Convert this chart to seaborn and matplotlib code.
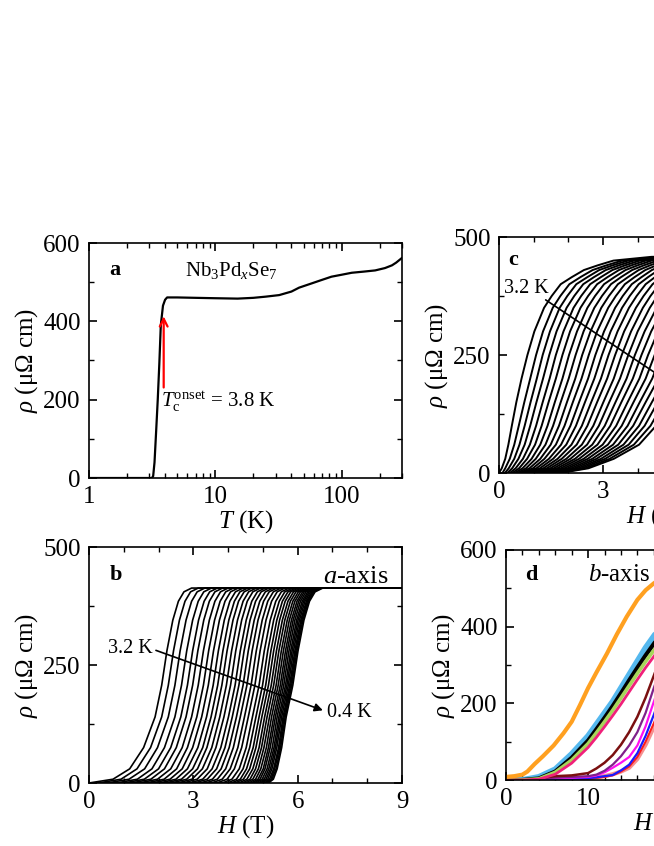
import numpy as np
import pandas as pd
import matplotlib
matplotlib.use('Agg')
import matplotlib.pyplot as plt
from matplotlib.ticker import MultipleLocator, FixedLocator, LogLocator, NullFormatter, FixedFormatter
import seaborn as sns

# ---------------- data ----------------
# panel a: rho(T)
a_T = [1.0, 2.0, 3.0, 3.15, 3.22, 3.3, 3.4, 3.5, 3.6, 3.7, 3.85, 4.0, 4.15, 5.0, 7.0, 10.0, 15.0, 20.0,
       25.0, 32.0, 40.0, 46.0, 58.0, 70.0, 83.0, 100.0, 120.0, 150.0, 184.0, 220.0, 250.0, 270.0, 300.0]
a_rho = [0, 0, 0, 0, 5, 40, 120, 200, 290, 390, 440, 455, 461, 461, 460, 459, 458, 460,
         463, 467, 476, 486, 497, 506, 514, 519, 524, 527, 530, 536, 543, 550, 562]

# panel b: field at which each a-axis curve (3.2 K ... 0.4 K) crosses the rho levels
b_rho_levels = [0, 8, 30, 75, 140, 207, 280, 345, 385, 405, 413]
b_H_curves = [
    [0.00, 0.69, 1.17, 1.57, 1.90, 2.09, 2.24, 2.41, 2.57, 2.73, 2.95],
    [0.26, 0.92, 1.38, 1.77, 2.09, 2.28, 2.43, 2.60, 2.76, 2.92, 3.14],
    [0.52, 1.15, 1.60, 1.97, 2.28, 2.47, 2.62, 2.79, 2.95, 3.11, 3.33],
    [0.78, 1.39, 1.81, 2.17, 2.47, 2.66, 2.81, 2.98, 3.14, 3.30, 3.52],
    [1.01, 1.59, 2.00, 2.35, 2.64, 2.83, 2.98, 3.15, 3.31, 3.47, 3.69],
    [1.22, 1.78, 2.17, 2.51, 2.79, 2.98, 3.13, 3.30, 3.46, 3.62, 3.84],
    [1.44, 1.97, 2.35, 2.68, 2.95, 3.14, 3.29, 3.46, 3.62, 3.78, 4.00],
    [1.64, 2.16, 2.52, 2.83, 3.10, 3.29, 3.44, 3.61, 3.77, 3.93, 4.15],
    [1.83, 2.33, 2.68, 2.98, 3.24, 3.43, 3.58, 3.75, 3.91, 4.07, 4.29],
    [2.03, 2.50, 2.83, 3.13, 3.38, 3.57, 3.72, 3.89, 4.05, 4.21, 4.43],
    [2.20, 2.66, 2.98, 3.27, 3.51, 3.70, 3.85, 4.02, 4.18, 4.34, 4.56],
    [2.37, 2.81, 3.12, 3.39, 3.63, 3.82, 3.97, 4.14, 4.30, 4.46, 4.68],
    [2.55, 2.96, 3.26, 3.53, 3.76, 3.95, 4.10, 4.27, 4.43, 4.59, 4.81],
    [2.71, 3.11, 3.40, 3.65, 3.88, 4.07, 4.22, 4.39, 4.55, 4.71, 4.93],
    [2.89, 3.27, 3.54, 3.79, 4.01, 4.20, 4.35, 4.52, 4.68, 4.84, 5.06],
    [3.04, 3.40, 3.67, 3.91, 4.12, 4.31, 4.46, 4.63, 4.79, 4.95, 5.17],
    [3.20, 3.55, 3.80, 4.03, 4.24, 4.43, 4.58, 4.75, 4.91, 5.07, 5.29],
    [3.35, 3.69, 3.93, 4.15, 4.35, 4.54, 4.69, 4.86, 5.02, 5.18, 5.40],
    [3.52, 3.83, 4.06, 4.28, 4.47, 4.66, 4.81, 4.98, 5.14, 5.30, 5.52],
    [3.67, 3.97, 4.18, 4.39, 4.58, 4.77, 4.92, 5.09, 5.25, 5.41, 5.63],
    [3.83, 4.11, 4.32, 4.52, 4.70, 4.89, 5.04, 5.21, 5.37, 5.53, 5.75],
    [3.97, 4.24, 4.43, 4.62, 4.80, 4.99, 5.14, 5.31, 5.47, 5.63, 5.85],
    [4.09, 4.35, 4.53, 4.72, 4.89, 5.08, 5.23, 5.40, 5.56, 5.72, 5.94],
    [4.20, 4.44, 4.62, 4.80, 4.97, 5.16, 5.31, 5.48, 5.64, 5.80, 6.02],
    [4.31, 4.54, 4.71, 4.89, 5.05, 5.24, 5.39, 5.56, 5.72, 5.88, 6.10],
    [4.41, 4.63, 4.79, 4.96, 5.12, 5.31, 5.46, 5.63, 5.79, 5.95, 6.17],
    [4.50, 4.71, 4.87, 5.03, 5.19, 5.38, 5.53, 5.70, 5.86, 6.02, 6.24],
    [4.59, 4.79, 4.94, 5.10, 5.25, 5.44, 5.59, 5.76, 5.92, 6.08, 6.30],
    [4.67, 4.86, 5.01, 5.16, 5.31, 5.50, 5.65, 5.82, 5.98, 6.14, 6.36],
    [4.74, 4.92, 5.06, 5.21, 5.36, 5.55, 5.70, 5.87, 6.03, 6.19, 6.41],
    [4.80, 4.98, 5.12, 5.27, 5.41, 5.60, 5.75, 5.92, 6.08, 6.24, 6.46],
    [4.87, 5.04, 5.17, 5.32, 5.46, 5.65, 5.80, 5.97, 6.13, 6.29, 6.51],
    [4.93, 5.09, 5.22, 5.36, 5.50, 5.69, 5.84, 6.01, 6.17, 6.33, 6.55],
    [4.98, 5.14, 5.26, 5.40, 5.54, 5.73, 5.88, 6.05, 6.21, 6.37, 6.59],
    [5.04, 5.19, 5.31, 5.45, 5.58, 5.77, 5.92, 6.09, 6.25, 6.41, 6.63],
    [5.08, 5.23, 5.34, 5.48, 5.61, 5.80, 5.95, 6.12, 6.28, 6.44, 6.66],
    [5.12, 5.26, 5.38, 5.51, 5.64, 5.83, 5.98, 6.15, 6.31, 6.47, 6.69],
    [5.16, 5.30, 5.41, 5.54, 5.67, 5.86, 6.01, 6.18, 6.34, 6.50, 6.72],
]
b_plateau = 413

# panel c: field at which each curve crosses the rho levels
c_rho_levels = [0, 10, 30, 60, 100, 150, 200, 250, 300, 350, 375, 400, 415, 430, 440, 450, 458]
c_H_curves = [
    [0.00, 0.08, 0.18, 0.27, 0.37, 0.50, 0.65, 0.82, 1.02, 1.30, 1.52, 1.78, 2.10, 2.45, 2.85, 3.30, 4.40],
    [0.10, 0.18, 0.31, 0.44, 0.57, 0.73, 0.90, 1.07, 1.27, 1.55, 1.77, 2.03, 2.35, 2.70, 3.10, 3.55, 4.65],
    [0.17, 0.28, 0.44, 0.59, 0.74, 0.91, 1.09, 1.26, 1.47, 1.75, 1.97, 2.23, 2.55, 2.89, 3.28, 3.72, 4.80],
    [0.24, 0.38, 0.56, 0.74, 0.90, 1.08, 1.27, 1.45, 1.66, 1.95, 2.17, 2.43, 2.74, 3.08, 3.46, 3.89, 4.95],
    [0.31, 0.48, 0.69, 0.89, 1.07, 1.26, 1.46, 1.64, 1.86, 2.15, 2.37, 2.63, 2.94, 3.27, 3.64, 4.06, 5.10],
    [0.38, 0.58, 0.81, 1.04, 1.23, 1.43, 1.64, 1.83, 2.05, 2.35, 2.57, 2.83, 3.13, 3.46, 3.82, 4.23, 5.25],
    [0.45, 0.68, 0.94, 1.19, 1.40, 1.61, 1.83, 2.02, 2.25, 2.55, 2.77, 3.03, 3.33, 3.65, 4.00, 4.40, 5.40],
    [0.52, 0.78, 1.06, 1.34, 1.56, 1.78, 2.01, 2.21, 2.44, 2.75, 2.97, 3.23, 3.52, 3.84, 4.18, 4.57, 5.55],
    [0.59, 0.88, 1.19, 1.49, 1.73, 1.96, 2.20, 2.40, 2.64, 2.95, 3.17, 3.43, 3.72, 4.03, 4.36, 4.74, 5.70],
    [0.66, 0.98, 1.31, 1.64, 1.89, 2.13, 2.38, 2.59, 2.83, 3.15, 3.37, 3.63, 3.91, 4.22, 4.54, 4.91, 5.85],
    [0.73, 1.08, 1.44, 1.79, 2.06, 2.31, 2.57, 2.78, 3.03, 3.35, 3.57, 3.83, 4.11, 4.41, 4.72, 5.08, 6.00],
    [0.80, 1.18, 1.56, 1.94, 2.22, 2.48, 2.75, 2.97, 3.22, 3.55, 3.77, 4.03, 4.30, 4.60, 4.90, 5.25, 6.15],
    [0.87, 1.28, 1.69, 2.09, 2.39, 2.66, 2.94, 3.16, 3.42, 3.75, 3.97, 4.23, 4.50, 4.79, 5.08, 5.42, 6.30],
    [0.94, 1.38, 1.81, 2.24, 2.55, 2.83, 3.12, 3.35, 3.61, 3.95, 4.17, 4.43, 4.69, 4.98, 5.26, 5.59, 6.45],
    [1.01, 1.48, 1.94, 2.39, 2.72, 3.01, 3.31, 3.54, 3.81, 4.15, 4.37, 4.63, 4.89, 5.17, 5.44, 5.76, 6.60],
    [1.08, 1.58, 2.06, 2.54, 2.88, 3.18, 3.49, 3.73, 4.00, 4.35, 4.57, 4.83, 5.08, 5.36, 5.62, 5.93, 6.75],
    [1.15, 1.68, 2.19, 2.69, 3.05, 3.36, 3.68, 3.92, 4.20, 4.55, 4.77, 5.03, 5.28, 5.55, 5.80, 6.10, 6.90],
    [1.22, 1.78, 2.31, 2.84, 3.21, 3.53, 3.86, 4.11, 4.39, 4.75, 4.97, 5.23, 5.47, 5.74, 5.98, 6.27, 7.05],
    [1.29, 1.88, 2.44, 2.99, 3.38, 3.71, 4.05, 4.30, 4.59, 4.95, 5.17, 5.43, 5.67, 5.93, 6.16, 6.44, 7.20],
    [1.36, 1.98, 2.56, 3.14, 3.54, 3.88, 4.23, 4.49, 4.78, 5.15, 5.37, 5.63, 5.86, 6.12, 6.34, 6.61, 7.35],
    [1.43, 2.08, 2.69, 3.29, 3.71, 4.06, 4.42, 4.68, 4.98, 5.35, 5.57, 5.83, 6.06, 6.31, 6.52, 6.78, 7.50],
    [1.50, 2.18, 2.81, 3.44, 3.87, 4.23, 4.60, 4.87, 5.17, 5.55, 5.77, 6.03, 6.25, 6.50, 6.70, 6.95, 7.65],
    [1.57, 2.28, 2.94, 3.59, 4.04, 4.41, 4.79, 5.06, 5.37, 5.75, 5.97, 6.23, 6.45, 6.69, 6.88, 7.12, 7.80],
    [1.64, 2.38, 3.06, 3.74, 4.20, 4.58, 4.97, 5.25, 5.56, 5.95, 6.17, 6.43, 6.64, 6.88, 7.06, 7.29, 7.95],
    [1.71, 2.48, 3.19, 3.89, 4.37, 4.76, 5.16, 5.44, 5.76, 6.15, 6.37, 6.63, 6.84, 7.07, 7.24, 7.46, 8.10],
    [1.78, 2.58, 3.31, 4.04, 4.53, 4.93, 5.34, 5.63, 5.95, 6.35, 6.57, 6.83, 7.03, 7.26, 7.42, 7.63, 8.25],
]
c_plateau = 462

# panel d: b-axis curves
d_H = [0, 2, 4, 6, 8, 10, 11, 12, 13, 14, 15, 16, 17, 18, 19, 20]
d_curves = {
    'salmon':  [0, 0, 1, 2, 3, 5, 8, 10, 15, 22, 32, 55, 92, 138, 195, 255],
    'red':     [0, 0, 1, 1, 2, 3, 5, 8, 12, 22, 35, 60, 100, 148, 205, 265],
    'blue':    [0, 0, 1, 2, 3, 5, 7, 10, 13, 25, 40, 70, 115, 170, 230, 290],
    'magenta': [0, 2, 4, 5, 6, 8, 12, 20, 32, 45, 60, 90, 140, 204, 265, 325],
    'purple':  [0, 2, 4, 6, 8, 10, 14, 24, 40, 62, 90, 125, 175, 240, 300, 360],
    'brown':   [0, 2, 5, 10, 12, 18, 30, 45, 65, 92, 125, 165, 215, 272, 330, 385],
    'pink':    [0, 0, 2, 15, 44, 85, 111, 139, 168, 198, 230, 262, 293, 322, 352, 380],
    'green':   [0, 0, 3, 20, 52, 95, 123, 152, 182, 214, 246, 278, 309, 338, 368, 395],
    'black':   [0, 0, 4, 22, 58, 103, 132, 162, 193, 226, 260, 293, 325, 355, 385, 412],
    'skyblue': [0, 0, 8, 28, 68, 115, 145, 175, 205, 240, 275, 310, 345, 375, 405, 430],
}
d_orange_H = [0, 1, 2, 2.6, 3.5, 4.5, 5.8, 7, 8, 9, 10, 11, 12.3, 13.5, 14.7, 16, 17, 18, 19, 20]
d_orange_rho = [8, 10, 14, 22, 42, 62, 90, 122, 152, 195, 240, 280, 330, 380, 426, 470, 495, 513, 527, 538]

# ---------------- styling ----------------
sns.set_style('ticks')
plt.rcParams.update({
    'font.family': ['Liberation Serif', 'DejaVu Serif'],
    'mathtext.fontset': 'custom',
    'mathtext.rm': 'Liberation Serif',
    'mathtext.it': 'Liberation Serif:italic',
    'mathtext.bf': 'Liberation Serif:bold',
    'axes.linewidth': 1.2,
    'axes.edgecolor': 'black',
    'axes.labelcolor': 'black',
    'text.color': 'black',
    'xtick.color': 'black', 'ytick.color': 'black',
    'xtick.direction': 'in', 'ytick.direction': 'in',
    'xtick.top': True, 'ytick.right': True,
    'xtick.major.size': 6, 'ytick.major.size': 6,
    'xtick.minor.size': 3.5, 'ytick.minor.size': 3.5,
    'xtick.major.width': 1.2, 'ytick.major.width': 1.2,
    'xtick.minor.width': 1.0, 'ytick.minor.width': 1.0,
    'xtick.labelsize': 18, 'ytick.labelsize': 18,
    'axes.labelsize': 18,
    'xtick.major.pad': 6, 'ytick.major.pad': 6,
})

W, H = 654, 846
fig = plt.figure(figsize=(W / 100, H / 100), dpi=100)

def pos(l, r, t, b):
    return [l / W, 1 - b / H, (r - l) / W, (b - t) / H]

axA = fig.add_axes(pos(89, 402, 243, 478))
axB = fig.add_axes(pos(89, 402, 547, 783))
axC = fig.add_axes(pos(499, 811, 237, 473))
axD = fig.add_axes(pos(506, 818, 550, 780))

ylab = r'$\rho$ (μΩ cm)'

# ---- panel a ----
dfa = pd.DataFrame({'T': a_T, 'rho': a_rho})
sns.lineplot(data=dfa, x='T', y='rho', ax=axA, color='black', lw=1.6, sort=False)
axA.set_xscale('log')
axA.set_xlim(1, 300)
axA.set_ylim(0, 600)
axA.xaxis.set_major_locator(FixedLocator([1, 10, 100]))
axA.xaxis.set_major_formatter(FixedFormatter(['1', '10', '100']))
axA.xaxis.set_minor_locator(LogLocator(base=10, subs=np.arange(2, 10)))
axA.xaxis.set_minor_formatter(NullFormatter())
axA.yaxis.set_major_locator(MultipleLocator(200))
axA.yaxis.set_minor_locator(MultipleLocator(100))
axA.set_xlabel(r'$T$ (K)', labelpad=0)
axA.set_ylabel(ylab, labelpad=2)
axA.text(1.45, 531, 'a', fontsize=16, fontweight='bold', va='center', ha='left')
axA.text(5.7, 531, r'Nb$_3$Pd$_x$Se$_7$', fontsize=15, va='center', ha='left')
axA.annotate('', xy=(3.9, 420), xytext=(3.9, 224),
             arrowprops=dict(arrowstyle='->', color='red', lw=1.6, mutation_scale=14))
axA.text(3.72, 195, r'$T_\mathrm{c}^\mathrm{onset}$ = 3.8 K', fontsize=15, va='center', ha='left')

# ---- panel b ----
rows = []
for i, hs in enumerate(b_H_curves):
    hh = [0.0] + hs + [9.0]
    rr = [0] + b_rho_levels + [b_plateau]
    for h, r in zip(hh, rr):
        rows.append((i, h, r))
dfb = pd.DataFrame(rows, columns=['curve', 'H', 'rho'])
sns.lineplot(data=dfb, x='H', y='rho', units='curve', estimator=None, ax=axB,
             color='black', lw=1.2, sort=False)
axB.set_xlim(0, 9)
axB.set_ylim(0, 500)
axB.xaxis.set_major_locator(MultipleLocator(3))
axB.xaxis.set_minor_locator(MultipleLocator(1))
axB.yaxis.set_major_locator(MultipleLocator(250))
axB.yaxis.set_minor_locator(MultipleLocator(125))
axB.set_xlabel(r'$H$ (T)', labelpad=0)
axB.set_ylabel(ylab, labelpad=2)
axB.text(0.6, 440, 'b', fontsize=16, fontweight='bold', va='center', ha='left')
axB.text(8.6, 437, r'$a$-axis', fontsize=19, va='center', ha='right')
axB.text(1.82, 285, '3.2 K', fontsize=14.5, va='center', ha='right')
axB.annotate('', xy=(6.8, 152), xytext=(1.85, 283),
             arrowprops=dict(arrowstyle='-|>', color='black', lw=1.2, mutation_scale=12),
             zorder=10)
axB.text(6.85, 150, '0.4 K', fontsize=14.5, va='center', ha='left')

# ---- panel c ----
rows = []
for i, hs in enumerate(c_H_curves):
    hh = [0.0] + hs + [9.0]
    rr = [0] + c_rho_levels + [c_plateau]
    for h, r in zip(hh, rr):
        rows.append((i, h, r))
dfc = pd.DataFrame(rows, columns=['curve', 'H', 'rho'])
sns.lineplot(data=dfc, x='H', y='rho', units='curve', estimator=None, ax=axC,
             color='black', lw=1.4, sort=False)
axC.set_xlim(0, 9)
axC.set_ylim(0, 500)
axC.xaxis.set_major_locator(MultipleLocator(3))
axC.xaxis.set_minor_locator(MultipleLocator(1))
axC.yaxis.set_major_locator(MultipleLocator(250))
axC.yaxis.set_minor_locator(MultipleLocator(125))
axC.set_xlabel(r'$H$ (T)', labelpad=0)
axC.set_ylabel(ylab, labelpad=2)
axC.text(0.26, 452, 'c', fontsize=16, fontweight='bold', va='center', ha='left')
axC.text(0.15, 390, '3.2 K', fontsize=14.5, va='center', ha='left')
axC.annotate('', xy=(6.8, 100), xytext=(1.28, 370),
             arrowprops=dict(arrowstyle='-|>', color='black', lw=1.2, mutation_scale=12),
             zorder=10)

# ---- panel d ----
d_colors = {
    'salmon': '#F47C7C', 'red': '#FF1A1A', 'blue': '#1A1AFF', 'magenta': '#FF10F0',
    'purple': '#80208A', 'brown': '#7A1010', 'pink': '#F0207A', 'green': '#A6D65A',
    'black': '#000000', 'skyblue': '#55B8EE',
}
d_widths = {
    'salmon': 3.0, 'red': 1.4, 'blue': 1.6, 'magenta': 1.6, 'purple': 1.6, 'brown': 1.8,
    'pink': 2.0, 'green': 2.6, 'black': 3.0, 'skyblue': 4.2,
}
draw_order = ['salmon', 'red', 'blue', 'magenta', 'purple', 'brown', 'skyblue', 'black', 'green', 'pink']
for name in draw_order:
    dfd = pd.DataFrame({'H': d_H, 'rho': d_curves[name]})
    sns.lineplot(data=dfd, x='H', y='rho', ax=axD, color=d_colors[name],
                 lw=d_widths[name], sort=False, alpha=0.85 if name == 'salmon' else 1.0)
dfo = pd.DataFrame({'H': d_orange_H, 'rho': d_orange_rho})
sns.lineplot(data=dfo, x='H', y='rho', ax=axD, color='#FFA020', lw=3.0, sort=False)
axD.set_xlim(0, 38)
axD.set_ylim(0, 600)
axD.xaxis.set_major_locator(MultipleLocator(10))
axD.xaxis.set_minor_locator(MultipleLocator(2))
axD.yaxis.set_major_locator(MultipleLocator(200))
axD.yaxis.set_minor_locator(MultipleLocator(100))
axD.set_xlabel(r'$H$ (T)', labelpad=0)
axD.set_ylabel(ylab, labelpad=2)
axD.text(2.3, 535, 'd', fontsize=16, fontweight='bold', va='center', ha='left')
axD.text(10.0, 535, r'$b$-axis', fontsize=18, va='center', ha='left')

for ax in (axA, axB, axC, axD):
    ax.tick_params(which='both', top=True, right=True, direction='in')
    ax.set_facecolor('white')

fig.savefig('out.png', dpi=100, facecolor='white')
